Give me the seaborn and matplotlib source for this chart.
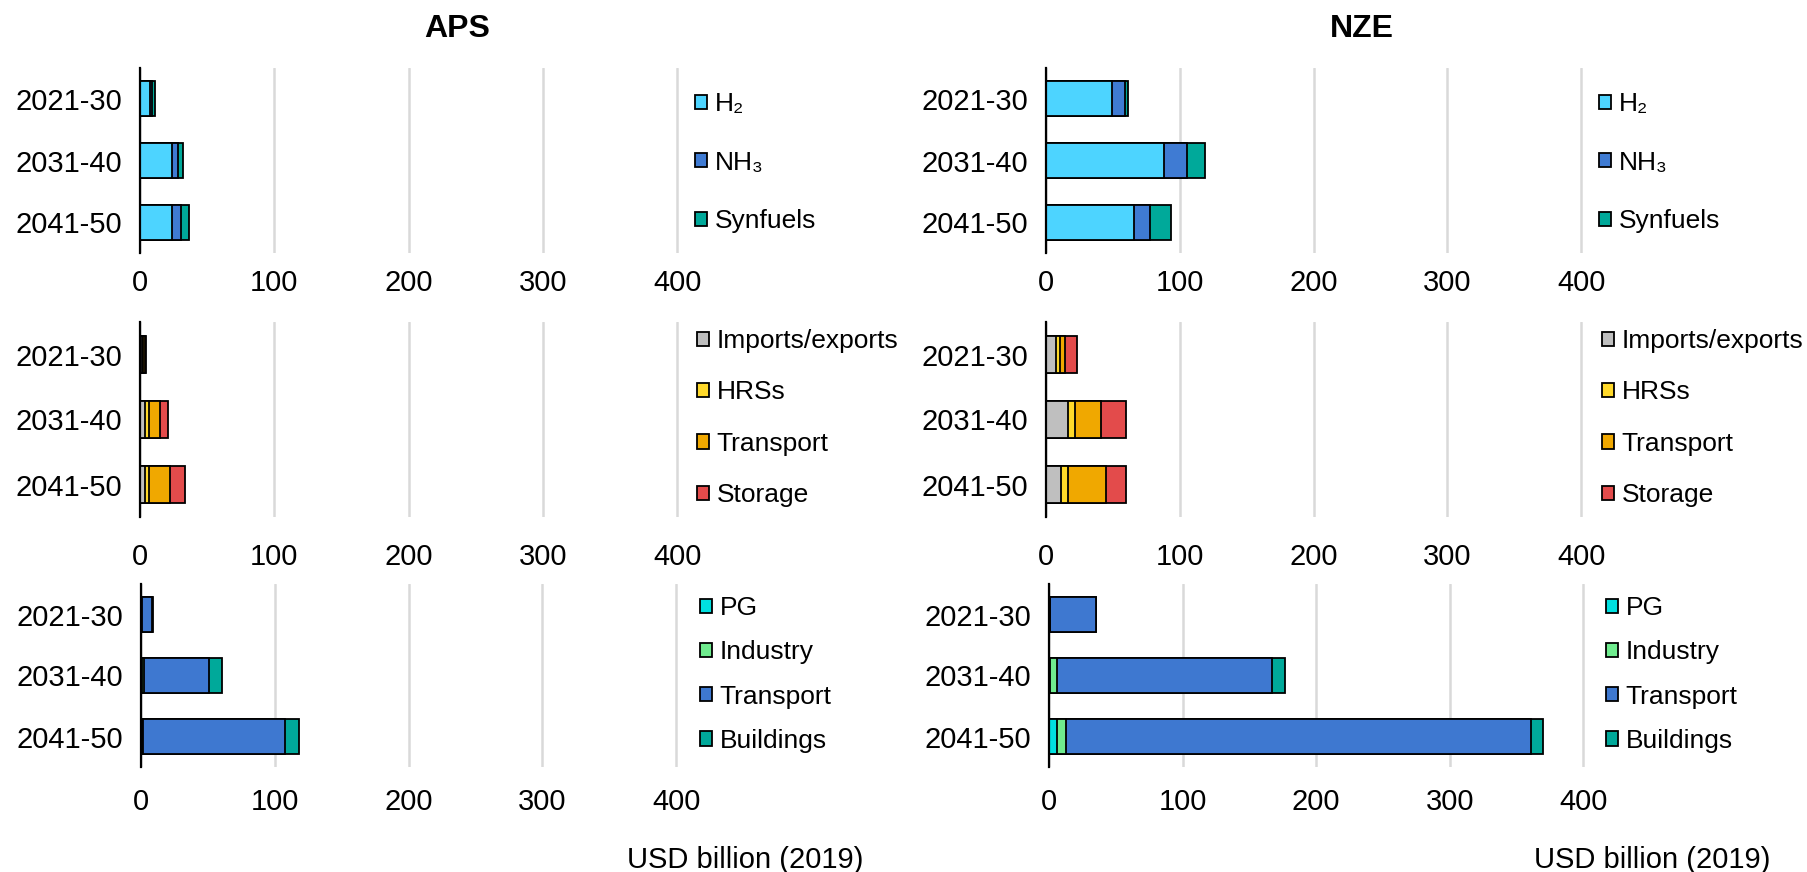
import matplotlib
matplotlib.use("Agg")
import matplotlib.pyplot as plt
from matplotlib.patches import Patch
import seaborn as sns
import numpy as np
import pandas as pd

# Dane (USD billion 2019)
periods = ["2021-30", "2031-40", "2041-50"]

# Paliwa wodorowe
fuel_labels = ["H\u2082", "NH\u2083", "Synfuels"]
fuel_colors = ["#4DD4FF", "#3F7BD3", "#00A99A"]
aps_h2 = [7.5, 23.5, 24]
aps_nh3 = [1.5, 4.5, 6.5]
aps_synfuels = [2.5, 4, 6]
nze_h2 = [49, 88, 65.5]
nze_nh3 = [10, 17, 12.5]
nze_synfuels = [2, 13.5, 15.5]

# Infrastruktura
infra_labels = ["Imports/exports", "HRSs", "Transport", "Storage"]
infra_colors = ["#BFBFBF", "#FFD92A", "#F0A800", "#E34B4B"]
aps_imports = [1.5, 4, 3.5]
aps_hrs = [1, 3, 3.5]
aps_transport_inf = [1, 8, 15.5]
aps_storage = [1, 6, 11]
nze_imports = [7.5, 16.5, 11]
nze_hrs = [3, 5, 5.5]
nze_transport_inf = [4, 19.5, 28.5]
nze_storage = [8.5, 18.5, 15]

# Zastosowania koncowe
end_labels = ["PG", "Industry", "Transport", "Buildings"]
end_colors = ["#00E0E0", "#6FEC8E", "#3E78D0", "#00A99A"]
aps_pg = [0, 0.5, 0.5]
aps_industry = [0.5, 1.5, 1]
aps_transport_end = [8, 49, 106]
aps_buildings = [0.3, 9.5, 10.5]
nze_pg = [0.5, 0.5, 6]
nze_industry = [0.5, 5.5, 6.5]
nze_transport_end = [34, 161, 348.5]
nze_buildings = [0.5, 10, 8.5]

ticks = [0, 100, 200, 300, 400]

sns.set_theme(style="white")
plt.rcParams["font.family"] = ["Liberation Sans", "DejaVu Sans"]
plt.rcParams["text.color"] = "black"
FS = 21
LFS = 19

fig = plt.figure(figsize=(18.07, 8.72), dpi=100)

W, H = 1807, 872


def px_axes(left, top, right, bottom):
    return fig.add_axes([left / W, 1 - bottom / H, (right - left) / W, (bottom - top) / H])


def stacked(ax, series, colors):
    df = pd.DataFrame(np.array(series).T, index=periods)
    cum = df.cumsum(axis=1)
    # rysowanie od najdluzszego do najkrotszego, zeby zachowac krawedzie segmentow
    for i in reversed(range(cum.shape[1])):
        sns.barplot(x=cum[i].values, y=periods, orient="y", color=colors[i],
                    saturation=1, edgecolor="black", linewidth=1.3, width=0.57,
                    errorbar=None, ax=ax)


def style(ax, pad):
    ax.set_xlim(0, 402)
    ax.set_ylim(2.5, -0.5)
    ax.set_xticks(ticks)
    ax.grid(axis="x", color="#D9D9D9", linewidth=1.8)
    ax.grid(axis="y", visible=False)
    ax.set_axisbelow(True)
    for s in ["top", "right", "bottom"]:
        ax.spines[s].set_visible(False)
    ax.spines["left"].set_color("black")
    ax.spines["left"].set_linewidth(1.6)
    ax.tick_params(axis="x", length=0, pad=pad, labelsize=FS, colors="black")
    ax.tick_params(axis="y", length=0, pad=13, labelsize=FS, colors="black")
    ax.set_xlabel("")
    ax.set_ylabel("")


def legend(labels, colors, x, y, spacing):
    handles = [Patch(facecolor=c, edgecolor="black", linewidth=1.3) for c in colors]
    fig.legend(handles, labels, loc="upper left", bbox_to_anchor=(x / W, 1 - y / H),
               bbox_transform=fig.transFigure, frameon=False, fontsize=LFS,
               handlelength=0.45, handleheight=0.45, handletextpad=0.3,
               labelspacing=spacing, borderpad=0, borderaxespad=0)


panels = [
    # (lewa, prawa, dane, kolory, etykiety, gora, dol, pad, legenda_x, legenda_y, odstep)
    (140, 680, [aps_h2, aps_nh3, aps_synfuels], fuel_colors, fuel_labels, 68, 253, 11.5, 695, 92, 1.31),
    (1046, 1584, [nze_h2, nze_nh3, nze_synfuels], fuel_colors, fuel_labels, 68, 253, 11.5, 1599, 92, 1.31),
    (140, 680, [aps_imports, aps_hrs, aps_transport_inf, aps_storage], infra_colors, infra_labels, 322, 517, 19, 697, 329, 1.04),
    (1046, 1584, [nze_imports, nze_hrs, nze_transport_inf, nze_storage], infra_colors, infra_labels, 322, 517, 19, 1602, 329, 1.04),
    (141, 679, [aps_pg, aps_industry, aps_transport_end, aps_buildings], end_colors, end_labels, 584, 767, 15, 700, 596, 0.77),
    (1049, 1586, [nze_pg, nze_industry, nze_transport_end, nze_buildings], end_colors, end_labels, 584, 767, 15, 1606, 596, 0.77),
]

for left, right, series, colors, labels, top, bottom, pad, lx, ly, sp in panels:
    ax = px_axes(left, top, right, bottom)
    stacked(ax, series, colors)
    style(ax, pad)
    legend(labels, colors, lx, ly, sp)

fig.text(457 / W, 1 - 29 / H, "APS", ha="center", va="center", fontsize=23, fontweight="bold")
fig.text(1362 / W, 1 - 29 / H, "NZE", ha="center", va="center", fontsize=23, fontweight="bold")
fig.text(745 / W, 1 - 860 / H, "USD billion (2019)", ha="center", va="center", fontsize=FS)
fig.text(1652 / W, 1 - 860 / H, "USD billion (2019)", ha="center", va="center", fontsize=FS)

fig.savefig("out.png", dpi=100)
